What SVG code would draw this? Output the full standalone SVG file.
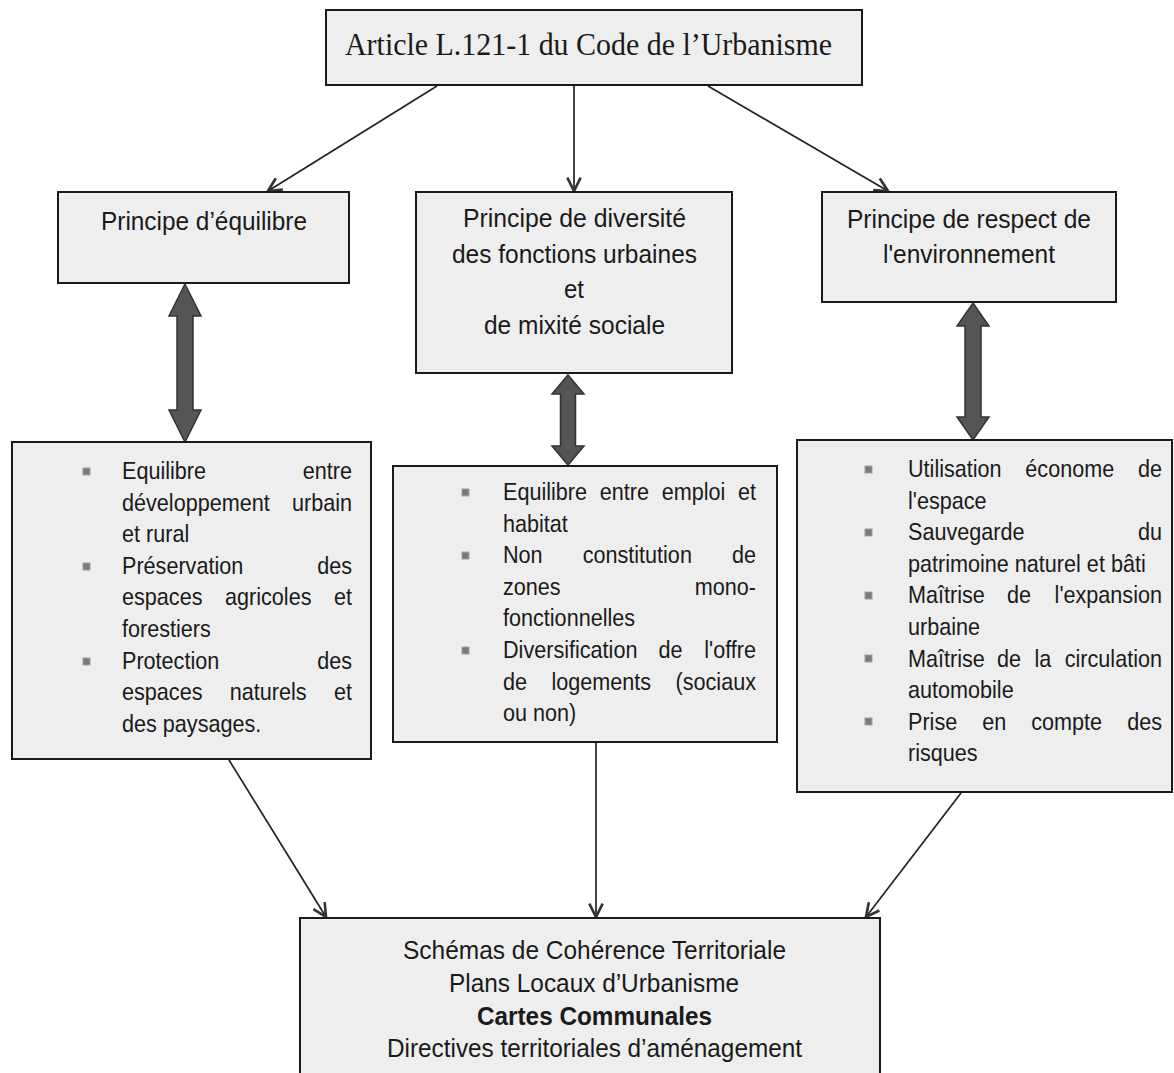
<svg xmlns="http://www.w3.org/2000/svg" width="1174" height="1073" viewBox="0 0 1174 1073">
<defs>
<style>
.box{fill:#eeeeee;stroke:#1a1a1a;stroke-width:2}
.t{font-family:"Liberation Sans",Arial,sans-serif;font-size:26.5px;fill:#1a1a1a}
.b{font-family:"Liberation Sans",Arial,sans-serif;font-size:24px;fill:#1a1a1a}
.serif{font-family:"Liberation Serif","Times New Roman",serif;font-size:32px;fill:#1a1a1a}
.bul{fill:#7a7a7a;stroke:#a0a0a0;stroke-width:1}
.con{stroke:#222;stroke-width:1.7;fill:none}
.blk{fill:#555;stroke:#333;stroke-width:1.5}
</style>
<marker id="ah" viewBox="0 0 12 12" refX="11" refY="6" markerWidth="16" markerHeight="16" markerUnits="userSpaceOnUse" orient="auto">
<path d="M1,1 L11,6 L1,11" fill="none" stroke="#333" stroke-width="2"/>
</marker>
</defs>
<rect width="1174" height="1073" fill="#fff"/>

<g id="connectors">
<line class="con" x1="437" y1="86" x2="268" y2="191" marker-end="url(#ah)"/>
<line class="con" x1="574" y1="86" x2="574" y2="191" marker-end="url(#ah)"/>
<line class="con" x1="708" y1="86" x2="888" y2="191" marker-end="url(#ah)"/>
<line class="con" x1="229" y1="760" x2="326" y2="917" marker-end="url(#ah)"/>
<line class="con" x1="596" y1="742" x2="596" y2="917" marker-end="url(#ah)"/>
<line class="con" x1="961" y1="793" x2="866" y2="917" marker-end="url(#ah)"/>
<polygon class="blk" points="185,284 201,316 193,316 193,410 201,410 185,442 169,410 177,410 177,316 169,316"/>
<polygon class="blk" points="568,375 584,394 575.5,394 575.5,446 584,446 568,465 552,446 560.5,446 560.5,394 552,394"/>
<polygon class="blk" points="973,303 989,326 981,326 981,417 989,417 973,440 957,417 965,417 965,326 957,326"/>
</g>

<g id="article">
<rect class="box" x="326" y="10" width="536" height="75"/>
<text class="serif" x="345" y="55" textLength="487" lengthAdjust="spacingAndGlyphs">Article L.121-1 du Code de l’Urbanisme</text>
</g>

<g id="equilibre">
<rect class="box" x="58" y="192" width="291" height="91"/>
<text class="t" x="101" y="230" textLength="206" lengthAdjust="spacingAndGlyphs">Principe d’équilibre</text>
</g>

<g id="diversite">
<rect class="box" x="416" y="192" width="316" height="181"/>
<text class="t" x="463" y="227" textLength="223" lengthAdjust="spacingAndGlyphs">Principe de diversité</text>
<text class="t" x="452" y="262.5" textLength="245" lengthAdjust="spacingAndGlyphs">des fonctions urbaines</text>
<text class="t" x="564" y="298" textLength="20" lengthAdjust="spacingAndGlyphs">et</text>
<text class="t" x="484" y="333.5" textLength="181" lengthAdjust="spacingAndGlyphs">de mixité sociale</text>
</g>

<g id="environnement">
<rect class="box" x="822" y="192" width="294" height="110"/>
<text class="t" x="847" y="228" textLength="244" lengthAdjust="spacingAndGlyphs">Principe de respect de</text>
<text class="t" x="883" y="263" textLength="172" lengthAdjust="spacingAndGlyphs">l'environnement</text>
</g>

<g id="liste-equilibre">
<rect class="box" x="12" y="442" width="359" height="317"/>
<rect class="bul" x="83" y="468" width="7" height="7"/>
<rect class="bul" x="83" y="563" width="7" height="7"/>
<rect class="bul" x="83" y="658" width="7" height="7"/>
<g class="b" transform="translate(122 0) scale(0.9 1)">
<text x="0" y="479">Equilibre</text><text x="255.6" y="479" text-anchor="end">entre</text>
<text x="0" y="510.6">développement</text><text x="255.6" y="510.6" text-anchor="end">urbain</text>
<text x="0" y="542.2">et rural</text>
<text x="0" y="573.8">Préservation</text><text x="255.6" y="573.8" text-anchor="end">des</text>
<text x="0" y="605.4">espaces</text><text x="114.5" y="605.4">agricoles</text><text x="255.6" y="605.4" text-anchor="end">et</text>
<text x="0" y="637">forestiers</text>
<text x="0" y="668.6">Protection</text><text x="255.6" y="668.6" text-anchor="end">des</text>
<text x="0" y="700.2">espaces</text><text x="119.8" y="700.2">naturels</text><text x="255.6" y="700.2" text-anchor="end">et</text>
<text x="0" y="731.8">des paysages.</text>
</g>
</g>

<g id="liste-diversite">
<rect class="box" x="393" y="466" width="384" height="276"/>
<rect class="bul" x="462" y="489" width="7" height="7"/>
<rect class="bul" x="462" y="552" width="7" height="7"/>
<rect class="bul" x="462" y="647" width="7" height="7"/>
<g class="b" transform="translate(503 0) scale(0.9 1)">
<text x="0" y="500">Equilibre</text><text x="107.5" y="500">entre</text><text x="176.3" y="500">emploi</text><text x="281.1" y="500" text-anchor="end">et</text>
<text x="0" y="531.6">habitat</text>
<text x="0" y="563.2">Non</text><text x="88.5" y="563.2">constitution</text><text x="281.1" y="563.2" text-anchor="end">de</text>
<text x="0" y="594.8">zones</text><text x="281.1" y="594.8" text-anchor="end">mono-</text>
<text x="0" y="626.4">fonctionnelles</text>
<text x="0" y="658">Diversification</text><text x="172.9" y="658">de</text><text x="281.1" y="658" text-anchor="end">l'offre</text>
<text x="0" y="689.6">de</text><text x="53.9" y="689.6">logements</text><text x="281.1" y="689.6" text-anchor="end">(sociaux</text>
<text x="0" y="721.2">ou non)</text>
</g>
</g>

<g id="liste-environnement">
<rect class="box" x="797" y="440" width="375" height="352"/>
<rect class="bul" x="865" y="466" width="7" height="7"/>
<rect class="bul" x="865" y="529" width="7" height="7"/>
<rect class="bul" x="865" y="592" width="7" height="7"/>
<rect class="bul" x="865" y="655" width="7" height="7"/>
<rect class="bul" x="865" y="718" width="7" height="7"/>
<g class="b" transform="translate(908 0) scale(0.9 1)">
<text x="0" y="477">Utilisation</text><text x="130.4" y="477">économe</text><text x="282.2" y="477" text-anchor="end">de</text>
<text x="0" y="508.6">l'espace</text>
<text x="0" y="540.2">Sauvegarde</text><text x="282.2" y="540.2" text-anchor="end">du</text>
<text x="0" y="571.8">patrimoine naturel et bâti</text>
<text x="0" y="603.4">Maîtrise</text><text x="110.1" y="603.4">de</text><text x="282.2" y="603.4" text-anchor="end">l'expansion</text>
<text x="0" y="635">urbaine</text>
<text x="0" y="666.6">Maîtrise</text><text x="98.9" y="666.6">de</text><text x="140.6" y="666.6">la</text><text x="282.2" y="666.6" text-anchor="end">circulation</text>
<text x="0" y="698.2">automobile</text>
<text x="0" y="729.8">Prise</text><text x="82.5" y="729.8">en</text><text x="137" y="729.8">compte</text><text x="282.2" y="729.8" text-anchor="end">des</text>
<text x="0" y="761.4">risques</text>
</g>
</g>

<g id="documents">
<rect class="box" x="300" y="918" width="580" height="170"/>
<text class="t" x="403" y="959" textLength="383" lengthAdjust="spacingAndGlyphs">Schémas de Cohérence Territoriale</text>
<text class="t" x="449" y="992" textLength="290" lengthAdjust="spacingAndGlyphs">Plans Locaux d’Urbanisme</text>
<text class="t" x="477" y="1025" textLength="235" lengthAdjust="spacingAndGlyphs" font-weight="bold">Cartes Communales</text>
<text class="t" x="387" y="1057" textLength="415" lengthAdjust="spacingAndGlyphs">Directives territoriales d’aménagement</text>
</g>
</svg>
